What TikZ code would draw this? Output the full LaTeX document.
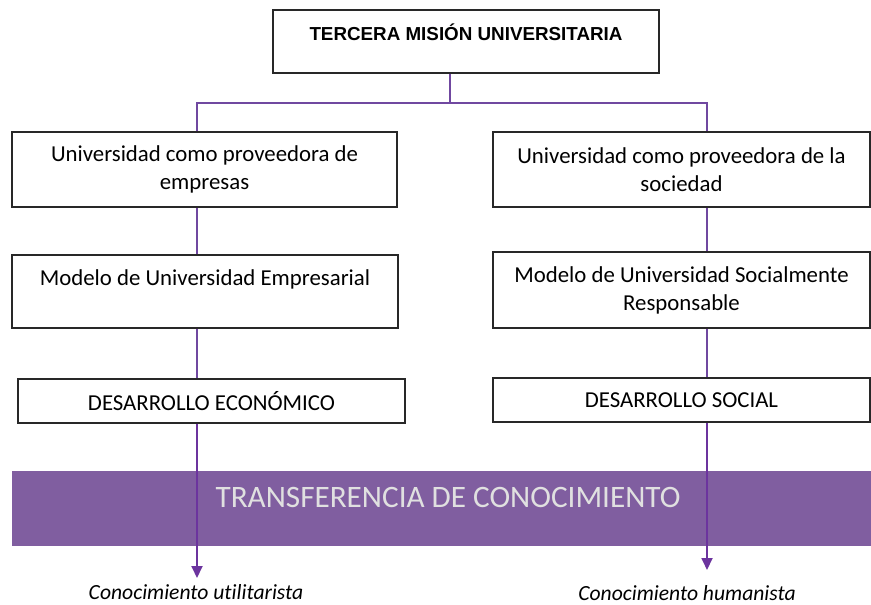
\documentclass[tikz,border=0pt]{standalone}
\usepackage{fontspec}
\setmainfont{Carlito}[Ligatures=NoCommon]
\newfontfamily\titulo{Liberation Sans}
\usetikzlibrary{arrows.meta}
\definecolor{linea}{RGB}{112,72,160}
\definecolor{flecha}{RGB}{108,52,158}
\definecolor{banda}{RGB}{128,94,160}
\definecolor{borde}{RGB}{40,40,40}

\begin{document}
\begin{tikzpicture}[x=0.5pt, y=-0.5pt,
    caja/.style={draw=borde, line width=0.6pt, fill=white, inner sep=0pt, align=center,
        font=\fontsize{11.4}{14}\selectfont},
    conector/.style={linea, line width=0.9pt},
    flechita/.style={flecha, line width=0.9pt, -{Triangle[width=5.5pt, length=6pt]}}]

    \useasboundingbox (0,0) rectangle (871,604);

    % franja de fondo
    \node[fill=banda, minimum width=429.5pt, minimum height=37.5pt, inner sep=0pt] (banda) at (441.5,508.5) {};
    \node[text=white!88!black, font=\fontsize{15.6}{17}\selectfont] (transf) at (448,497) {TRANSFERENCIA DE CONOCIMIENTO};

    \node[caja, minimum width=193pt, minimum height=31.5pt, font=\titulo\bfseries\fontsize{9.4}{9.5}\selectfont] (tercera) at (466,41.5) {TERCERA MISIÓN UNIVERSITARIA\\ ~};

    \node[caja, minimum width=192.5pt, minimum height=37.5pt] (prov1) at (204.5,169.5) {Universidad como proveedora de\\empresas};
    \node[caja, minimum width=188.5pt, minimum height=37.5pt] (prov2) at (681.5,169.5) {Universidad como proveedora de la\\sociedad};

    \node[caja, minimum width=193pt, minimum height=36.5pt] (mod1) at (205,291.5) {Modelo de Universidad Empresarial\\ ~};
    \node[caja, minimum width=188.5pt, minimum height=38pt] (mod2) at (681.5,290) {Modelo de Universidad Socialmente\\Responsable};

    \node[caja, minimum width=193.5pt, minimum height=22pt] (des1) at (211.5,401) {DESARROLLO ECONÓMICO};
    \node[caja, minimum width=188.5pt, minimum height=22pt] (des2) at (681.5,400) {DESARROLLO SOCIAL};

    \coordinate (rama) at (450,103);
    \coordinate (izq) at (197,103);
    \coordinate (der) at (707,103);
    \coordinate (finizq) at (197,578);
    \coordinate (finder) at (707,570);

    \draw[conector] (tercera.south -| rama) -- (rama);
    \draw[conector] (izq |- prov1.north) -- (izq) -- (der) -- (der |- prov2.north);
    \draw[conector] (izq |- prov1.south) -- (izq |- mod1.north);
    \draw[conector] (der |- prov2.south) -- (der |- mod2.north);
    \draw[conector] (izq |- mod1.south) -- (izq |- des1.north);
    \draw[conector] (der |- mod2.south) -- (der |- des2.north);

    \draw[flechita] (izq |- des1.south) -- (finizq);
    \draw[flechita] (der |- des2.south) -- (finder);

    \node[font=\fontsize{10.8}{14}\selectfont\itshape] (util) at (196,592) {Conocimiento utilitarista};
    \node[font=\fontsize{10.8}{14}\selectfont\itshape] (human) at (687,593) {Conocimiento humanista};

\end{tikzpicture}
\end{document}
